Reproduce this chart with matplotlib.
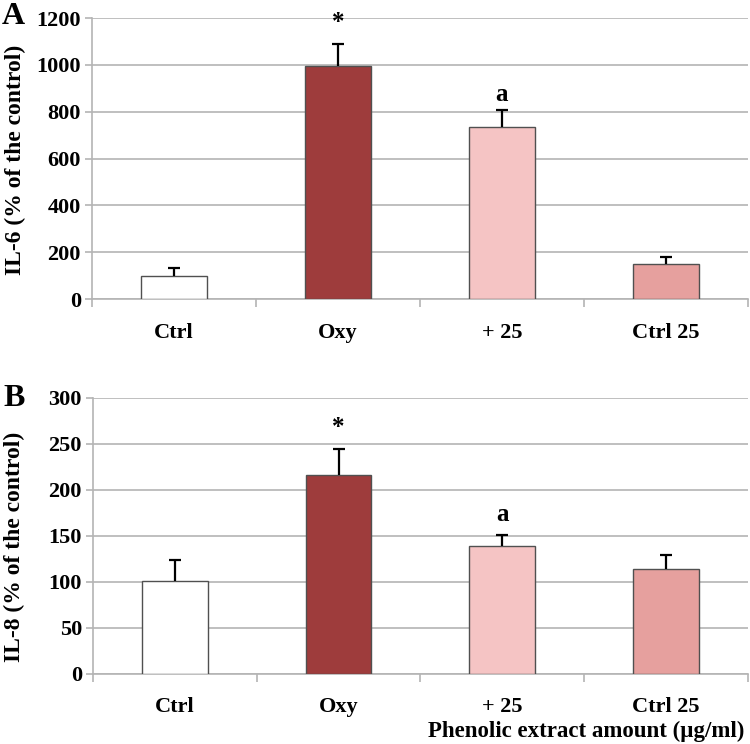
import matplotlib
matplotlib.use("Agg")
import matplotlib.pyplot as plt
import numpy as np

plt.rcParams['font.family'] = ['Liberation Serif', 'DejaVu Serif']
plt.rcParams['font.weight'] = 'bold'

categories = ["Ctrl", "Oxy", "+ 25", "Ctrl 25"]
il6_values = [100, 997, 733, 148]
il6_errors = [34, 92, 73, 33]
il8_values = [101, 216, 139, 114]
il8_errors = [23, 28, 12, 15]
il6_marks = ["", "*", "a", ""]
il8_marks = ["", "*", "a", ""]
il6_mark_y = [None, 1180, 875, None]
il8_mark_y = [None, 268, 173, None]
bar_colors = ["#ffffff", "#9e3c3c", "#f5c4c4", "#e6a09e"]

fig = plt.figure(figsize=(7.5, 7.44), dpi=100)
axA = fig.add_axes([0.1227, 0.598, 0.8743, 0.3778])
axB = fig.add_axes([0.1240, 0.0945, 0.8730, 0.371])

def draw(ax, vals, errs, marks, mark_y, ymax, ystep, ylabel, label_x, label_y):
    x = np.arange(len(categories))
    ax.bar(x, vals, width=0.4, color=bar_colors, edgecolor="#505050",
           linewidth=1.0, zorder=3)
    eb = ax.errorbar(x, vals, yerr=[np.zeros(len(errs)), errs], fmt="none",
                     ecolor="black", elinewidth=1.6, capsize=4.5, capthick=1.6,
                     zorder=4)
    eb[1][0].set_visible(False)
    for xi, m, my in zip(x, marks, mark_y):
        if m:
            ax.text(xi, my, m, ha="center", va="center", fontsize=18,
                    fontweight="bold", zorder=5)
    ax.set_xlim(-0.5, len(categories) - 0.5)
    ax.set_ylim(0, ymax)
    ax.set_yticks(np.arange(0, ymax + 1, ystep))
    ax.yaxis.grid(True, color="#b4b4b4", linewidth=1.2, zorder=0)
    ax.set_axisbelow(True)
    ax.set_xticks(np.arange(-0.5, len(categories) + 0.5, 1.0), minor=False)
    ax.set_xticklabels([])
    ax.set_xticks(x, minor=True)
    ax.set_xticklabels(categories, minor=True, fontsize=16, fontweight="bold")
    ax.tick_params(axis="x", which="minor", length=0, pad=17)
    ax.tick_params(axis="x", which="major", length=6, color="#b4b4b4", width=1.2)
    ax.tick_params(axis="y", length=5, color="#b4b4b4", width=1.2,
                   labelsize=16, pad=3)
    for lab in ax.get_yticklabels():
        lab.set_fontweight("bold")
    for s in ["top", "right"]:
        ax.spines[s].set_visible(False)
    for s in ["left", "bottom"]:
        ax.spines[s].set_color("#b4b4b4")
        ax.spines[s].set_linewidth(1.2)
    ax.set_ylabel(ylabel, fontsize=17, fontweight="bold")
    ax.yaxis.set_label_coords(label_x, label_y)

draw(axA, il6_values, il6_errors, il6_marks, il6_mark_y, 1200, 200,
     "IL-6 (% of the control)", -0.101, 0.495)
draw(axB, il8_values, il8_errors, il8_marks, il8_mark_y, 300, 50,
     "IL-8 (% of the control)", -0.104, 0.458)
fig.text(2 / 750, 1 - 17 / 744, "A", fontsize=23, fontweight="bold",
         ha="left", va="center")
fig.text(3 / 750, 1 - 399 / 744, "B", fontsize=23, fontweight="bold",
         ha="left", va="center")
axB.text(0.995, -0.21, "Phenolic extract amount (\u00b5g/ml)", transform=axB.transAxes,
         ha="right", va="center", fontsize=16.5, fontweight="bold")

fig.savefig("out.png", dpi=100)
